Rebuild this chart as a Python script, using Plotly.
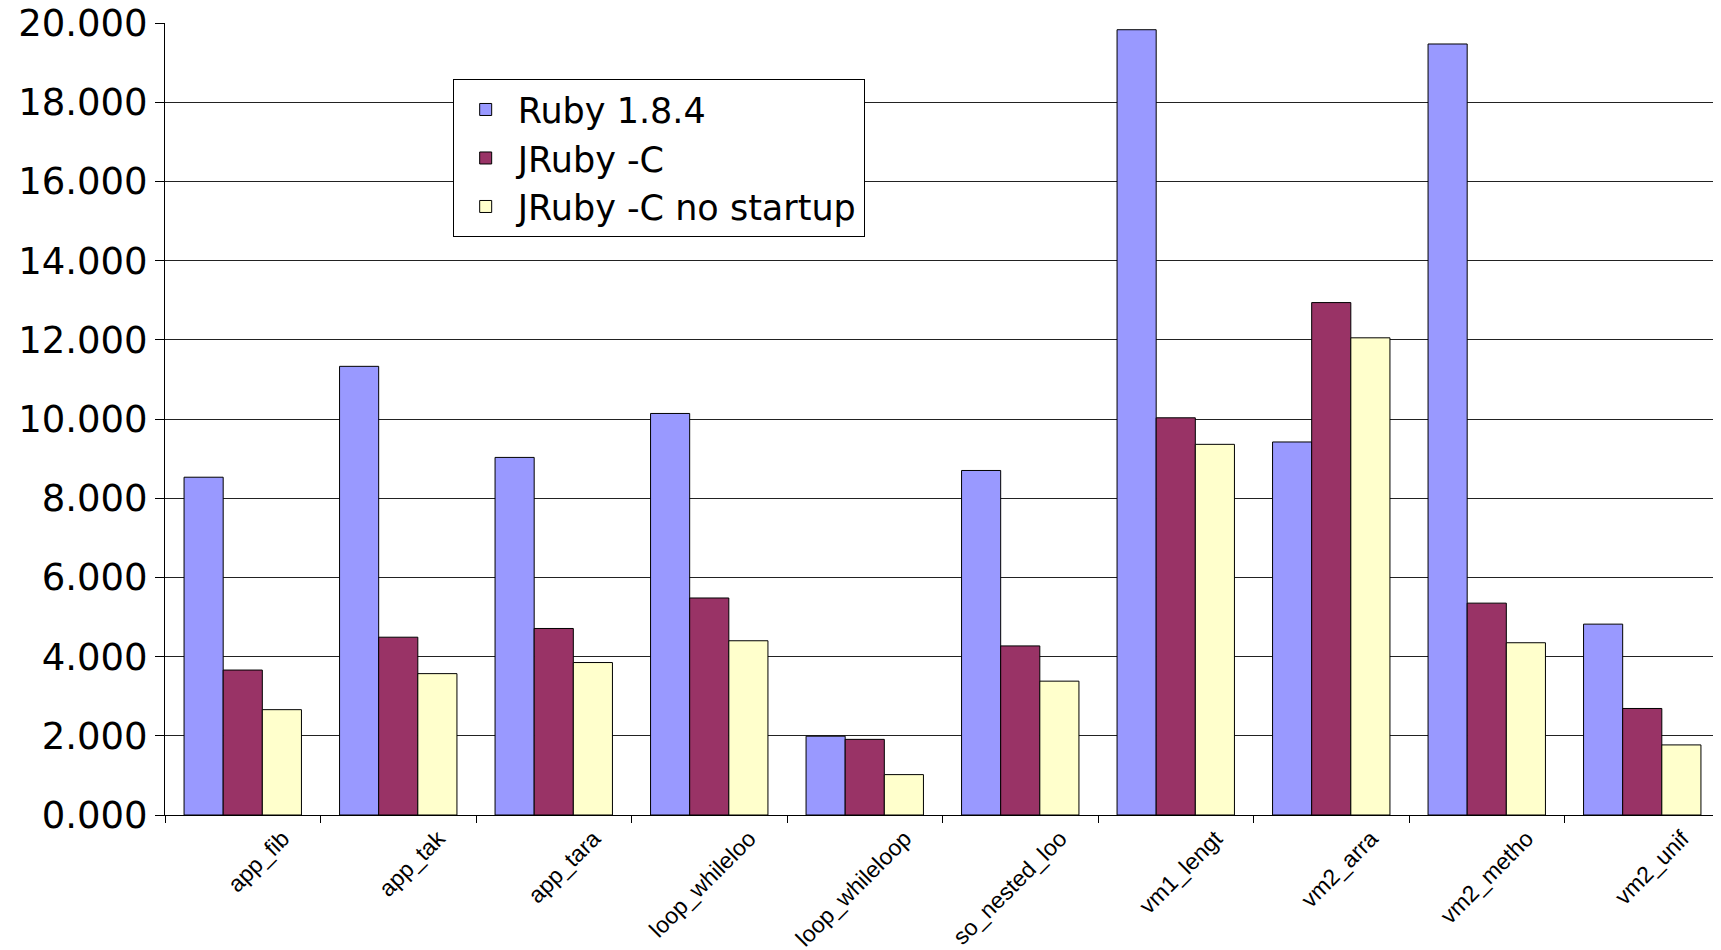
import plotly.graph_objects as go

categories = ["app_fib", "app_tak", "app_tara", "loop_whileloo", "loop_whileloop",
              "so_nested_loo", "vm1_lengt", "vm2_arra", "vm2_metho", "vm2_unif"]
ruby_184 = [8.53, 11.33, 9.03, 10.14, 1.99, 8.70, 19.83, 9.42, 19.47, 4.82]
jruby_c = [3.66, 4.49, 4.71, 5.48, 1.91, 4.27, 10.03, 12.94, 5.35, 2.69]
jruby_c_nostart = [2.66, 3.57, 3.85, 4.40, 1.02, 3.38, 9.36, 12.05, 4.35, 1.77]
y_ticks = [0, 2, 4, 6, 8, 10, 12, 14, 16, 18, 20]

series = [
    ("Ruby 1.8.4", ruby_184, "#9999FF"),
    ("JRuby -C", jruby_c, "#993366"),
    ("JRuby -C no startup", jruby_c_nostart, "#FFFFCC"),
]

fig = go.Figure()
for name, vals, color in series:
    fig.add_trace(go.Bar(x=categories, y=vals, name=name,
                         marker=dict(color=color, line=dict(color="black", width=1))))

font_family = "DejaVu Sans, Liberation Sans, Arial, sans-serif"
label_family = "Liberation Sans, Arial, sans-serif"

# page body has an 8px default margin, so the figure is offset by 8px
fig.update_layout(
    width=1713, height=942,
    margin=dict(l=157, r=1, t=15, b=135),
    paper_bgcolor="white", plot_bgcolor="white",
    barmode="group", bargap=0.245, bargroupgap=0,
    font=dict(family=font_family, color="black"),
    legend=dict(x=0.185, y=0.929, xanchor="left", yanchor="top",
                bgcolor="white", bordercolor="black", borderwidth=1,
                font=dict(size=35, family=font_family), tracegroupgap=0,
                itemwidth=54),
    xaxis=dict(type="category", tickangle=-45,
               tickfont=dict(size=23, family=label_family),
               showline=True, linecolor="black", linewidth=1,
               ticks="outside", tickson="boundaries", ticklen=7, tickcolor="black",
               showgrid=False, automargin=False, ticklabelshift=40),
    yaxis=dict(range=[0, 20], tickvals=y_ticks, tickformat=".3f",
               tickfont=dict(size=37), ticklabeloverflow="allow",
               showline=True, linecolor="black", linewidth=1,
               ticks="outside", ticklen=9, tickcolor="black",
               showgrid=True, gridcolor="#222222", gridwidth=1, zeroline=False,
               automargin=False),
)

fig.write_html("out.html")
